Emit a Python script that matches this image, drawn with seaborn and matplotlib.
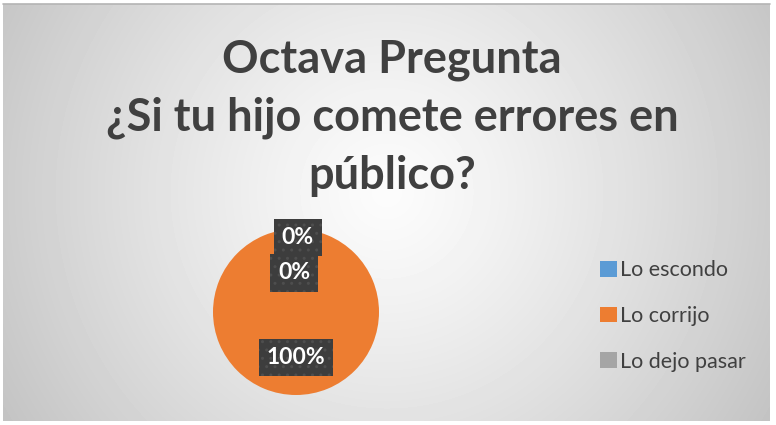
import numpy as np
import matplotlib
matplotlib.use("Agg")
import matplotlib.pyplot as plt
import seaborn as sns

# datos de la gráfica
categorias = ["Lo escondo", "Lo corrijo", "Lo dejo pasar"]
valores = [0, 100, 0]
colores = ["#5b9bd5", "#ed7d31", "#a5a5a5"]
titulo = "Octava Pregunta\n¿Si tu hijo comete errores en\npúblico?"

sns.set_theme(style="white")
plt.rcParams['font.family'] = ['Lato', 'DejaVu Sans']

fig = plt.figure(figsize=(7.76, 4.25), dpi=100)
fig.patch.set_facecolor("white")

# fondo con degradado radial (estilo Excel)
bg = fig.add_axes([3 / 776, 4 / 425, 767 / 776, 417 / 425])
h, w = 417, 767
yy, xx = np.mgrid[0:h, 0:w]
d = np.sqrt((xx - w / 2) ** 2 + (yy - h * 0.45) ** 2) / 440.0
grad = 252 - (252 - 196) * np.clip(d, 0, 1.2) ** 1.2
bg.imshow(grad, cmap="gray", vmin=0, vmax=255, aspect="auto", interpolation="bilinear")
bg.set_axis_off()
bg.set_zorder(-1)
fig.add_artist(plt.Line2D([3 / 776, 770 / 776], [421 / 425, 421 / 425],
                          transform=fig.transFigure, color="#b4b4b4", lw=1.2))

# título
fig.text(392 / 776, 1 - 118 / 425, titulo, ha="center", va="center",
         fontsize=32.5, fontweight="bold", color="#404040", linespacing=1.45)

# pastel
ax = fig.add_axes([(296 - 83) / 776, 1 - (312 + 83) / 425, 166 / 776, 166 / 425])
wedges, _, autotexts = ax.pie(valores, colors=colores, startangle=90, counterclock=False,
                              autopct="%1.0f%%", pctdistance=0.55,
                              wedgeprops=dict(linewidth=0))
ax.set_xlim(-1, 1)
ax.set_ylim(-1, 1)
ax.set_aspect("auto")
ax.set_axis_off()

# las etiquetas de 0% se superponen arriba, se separan como en Excel
desplaz = [(0.02, 0.35), (0, 0), (-0.02, -0.08)]
for t, (dx, dy) in zip(autotexts, desplaz):
    x, y = t.get_position()
    t.set_position((x + dx, y + dy))
    t.set_color("white")
    t.set_fontsize(16.5)
    t.set_fontweight("bold")
    t.set_bbox(dict(boxstyle="square,pad=0.35", facecolor="#3d3d3d",
                    edgecolor="#4e4e4e", hatch="..", linewidth=0))

# leyenda
ley = fig.legend(wedges, categorias, loc="center left",
                 bbox_to_anchor=(581 / 776, 1 - 316 / 425), frameon=False,
                 fontsize=15.5, labelspacing=1.2, handlelength=0.75, handleheight=0.75,
                 handletextpad=0.15)
for txt in ley.get_texts():
    txt.set_color("#404040")

plt.savefig("out.png", dpi=100, facecolor=fig.get_facecolor())
